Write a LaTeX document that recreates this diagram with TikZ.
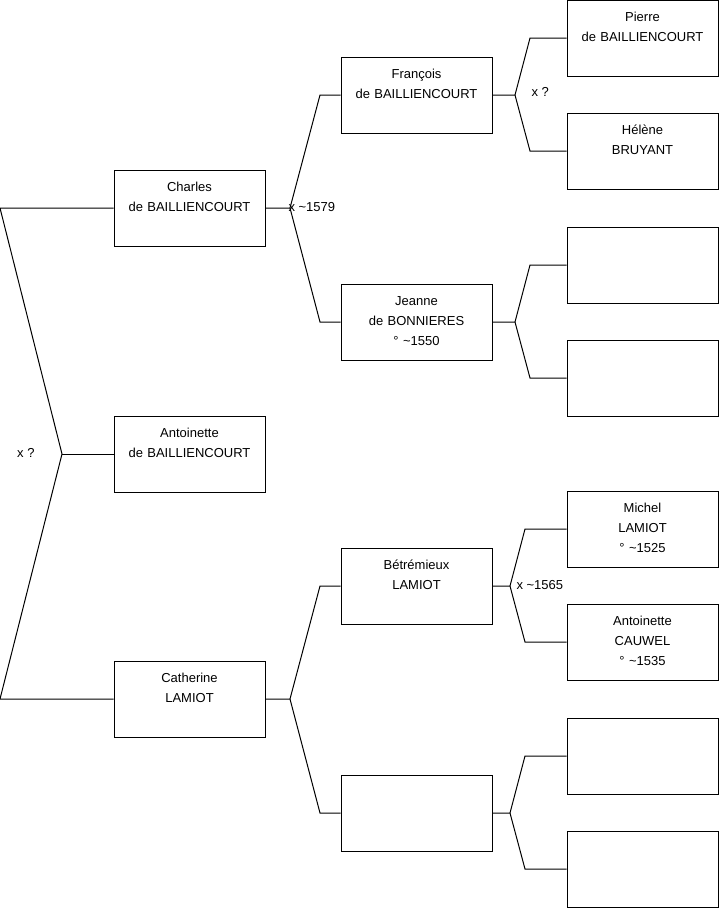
\documentclass[tikz,border=0pt]{standalone}
\usepackage{fontspec}
\setmainfont{Liberation Sans}
\usepackage{tikz}
\usetikzlibrary{positioning}

\begin{document}
\begin{tikzpicture}[
  x=1pt, y=-1pt, line width=1pt,
  font=\fontsize{13}{20}\selectfont,
  person/.style={draw, minimum width=151pt, text width=151pt, inner xsep=0pt, inner ysep=0pt,
    align=center, text height=21pt, text depth=55pt},
  lab/.style={inner sep=0pt, anchor=west}
]
\useasboundingbox (0,0) rectangle (719,908);
% generation 1
\node[person] (charles) at (189.5,208) {Charles\\de BAILLIENCOURT};
\node[person] (antoinette) at (189.5,454) {Antoinette\\de BAILLIENCOURT};
\node[person] (catherine) at (189.5,699) {Catherine\\LAMIOT};
% generation 2
\node[person] (francois) at (416.5,95) {François\\de BAILLIENCOURT};
\node[person] (jeanne) at (416.5,322) {Jeanne\\de BONNIERES\\° \textasciitilde1550};
\node[person] (betremieux) at (416.5,586) {Bétrémieux\\LAMIOT};
\node[person] (mother) at (416.5,813) {};
% generation 3
\node[person] (pierre) at (642.5,38) {Pierre\\de BAILLIENCOURT};
\node[person] (helene) at (642.5,151) {Hélène\\BRUYANT};
\node[person] (jfather) at (642.5,265) {};
\node[person] (jmother) at (642.5,378) {};
\node[person] (michel) at (642.5,529) {Michel\\LAMIOT\\° \textasciitilde1525};
\node[person] (antoinettec) at (642.5,642) {Antoinette\\CAUWEL\\° \textasciitilde1535};
\node[person] (mfather) at (642.5,756) {};
\node[person] (mmother) at (642.5,869) {};
% junctions
\coordinate (root) at (62,454);
\coordinate (jc) at (290,208);
\coordinate (jk) at (290,699);
\coordinate (jf) at (515,95);
\coordinate (jj) at (515,322);
\coordinate (jb) at (510,586);
\coordinate (jm) at (510,813);
% root couple
\draw (charles.west) -- (charles.west -| 0,0) -- (root) -- (catherine.west -| 0,0) -- (catherine.west);
\draw (root) -- (antoinette.west);
\node[lab, anchor=east] at ([xshift=-27pt,yshift=1pt]root) {x ?};
% parents of Charles
\draw (charles.east) -- (jc) -- (francois.west -| 320,0) -- (francois.west);
\draw (jc) -- (jeanne.west -| 320,0) -- (jeanne.west);
\node[lab] at ([xshift=-2pt,yshift=1pt]jc) {x \textasciitilde1579};
% parents of François
\draw (francois.east) -- (jf) -- (pierre.west -| 530,0) -- (pierre.west);
\draw (jf) -- (helene.west -| 530,0) -- (helene.west);
\node[lab] at ([xshift=16pt,yshift=3pt]jf) {x ?};
% parents of Jeanne
\draw (jeanne.east) -- (jj) -- (jfather.west -| 530,0) -- (jfather.west);
\draw (jj) -- (jmother.west -| 530,0) -- (jmother.west);
% parents of Catherine
\draw (catherine.east) -- (jk) -- (betremieux.west -| 320,0) -- (betremieux.west);
\draw (jk) -- (mother.west -| 320,0) -- (mother.west);
% parents of Bétrémieux
\draw (betremieux.east) -- (jb) -- (michel.west -| 525,0) -- (michel.west);
\draw (jb) -- (antoinettec.west -| 525,0) -- (antoinettec.west);
\node[lab] at ([xshift=6pt,yshift=1pt]jb) {x \textasciitilde1565};
% parents of the unknown mother
\draw (mother.east) -- (jm) -- (mfather.west -| 525,0) -- (mfather.west);
\draw (jm) -- (mmother.west -| 525,0) -- (mmother.west);
\end{tikzpicture}
\end{document}
